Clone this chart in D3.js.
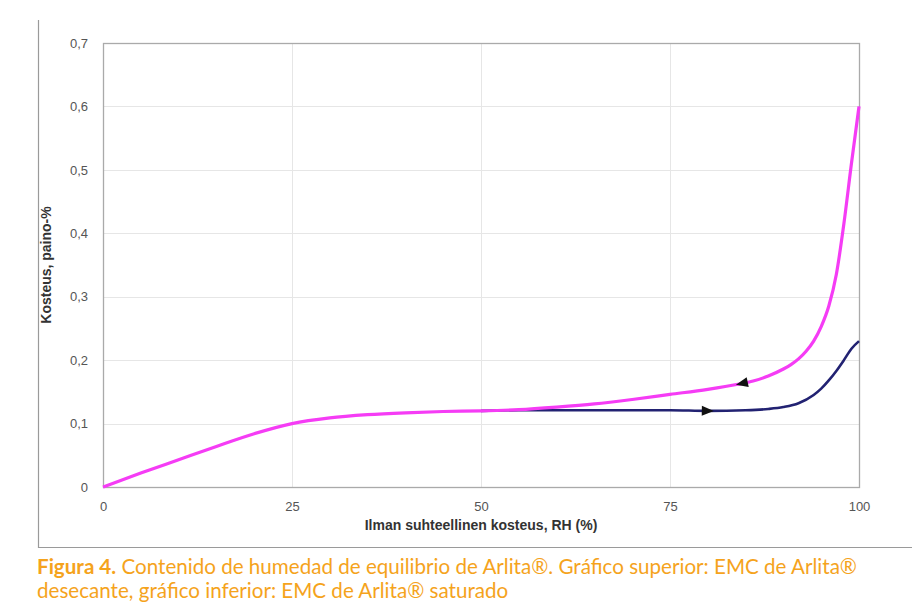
<!DOCTYPE html>
<html>
<head>
<meta charset="utf-8">
<script src="https://cdn.jsdelivr.net/npm/d3@7"></script>
<style>
  body { margin: 0; background: #fff; }
  svg { display: block; }
</style>
</head>
<body>
<svg id="chart" width="912" height="608"></svg>
<script>
// values
const x_ticks = [0, 25, 50, 75, 100];
const y_ticks = [0, 0.1, 0.2, 0.3, 0.4, 0.5, 0.6, 0.7];

const pink_rh = [0, 5, 10, 15, 20, 25, 30, 35, 40, 45, 50, 55, 60, 65, 70, 75, 80, 84, 86, 88, 90, 91, 92, 93, 94, 95, 96, 97, 98, 99, 100];
const pink_val = [0, 0.022, 0.043, 0.064, 0.084, 0.1, 0.109, 0.114, 0.117, 0.119, 0.12, 0.122, 0.126, 0.131, 0.138, 0.146, 0.154, 0.162, 0.167, 0.175, 0.186, 0.193, 0.202, 0.214, 0.23, 0.253, 0.285, 0.335, 0.415, 0.51, 0.6];

const blue_rh = [50, 55, 60, 65, 70, 75, 80, 85, 88, 90, 92, 94, 95, 96, 97, 98, 99, 100];
const blue_val = [0.12, 0.121, 0.121, 0.121, 0.121, 0.121, 0.12, 0.121, 0.123, 0.126, 0.132, 0.145, 0.155, 0.168, 0.183, 0.2, 0.218, 0.23];

// arrow positions (rh) and direction
const arrow_pink = 84.5;
const arrow_blue = 80;

const svg = d3.select('#chart');

let plot_left = 103, plot_right = 859, plot_top = 43, plot_bottom = 487;
let font = 'Liberation Sans, Arial, sans-serif';

var x = d3.scaleLinear().domain([0, 100]).range([plot_left, plot_right]);
var y = d3.scaleLinear().domain([0, 0.7]).range([plot_bottom, plot_top]);

// outer frame (left + bottom)
svg.append('path')
    .attr('d', 'M38.5,20 V547.5 H912')
    .attr('fill', 'none')
    .attr('stroke', '#9a9a9a')
    .attr('stroke-width', 1.2);

// grid
svg.append('g').selectAll('line').data(y_ticks.slice(1, -1)).enter().append('line')
    .attr('x1', plot_left).attr('x2', plot_right)
    .attr('y1', d => Math.round(y(d)) + 0.5).attr('y2', d => Math.round(y(d)) + 0.5)
    .attr('stroke', '#e6e6e6');
svg.append('g').selectAll('line').data(x_ticks.slice(1, -1)).enter().append('line')
    .attr('y1', plot_top).attr('y2', plot_bottom)
    .attr('x1', d => Math.round(x(d)) + 0.5).attr('x2', d => Math.round(x(d)) + 0.5)
    .attr('stroke', '#e6e6e6');

// plot border
svg.append('rect')
    .attr('x', plot_left + 0.5).attr('y', plot_top + 0.5)
    .attr('width', plot_right - plot_left).attr('height', plot_bottom - plot_top)
    .attr('fill', 'none').attr('stroke', '#aaaaaa').attr('stroke-width', 1.3);

// axes ticks labels
let x_axis = svg.append('g')
    .attr('transform', 'translate(0,' + (plot_bottom + 12) + ')')
    .call(d3.axisBottom(x).tickValues(x_ticks).tickSize(0).tickFormat(d3.format('d')));
x_axis.select('.domain').remove();
x_axis.selectAll('text')
    .attr('font-family', font)
    .attr('font-size', 13).attr('fill', '#555');

let y_axis = svg.append('g')
    .attr('transform', 'translate(' + (plot_left - 12) + ',0)')
    .call(d3.axisLeft(y).tickValues(y_ticks).tickSize(0)
        .tickFormat(d => d === 0 ? '0' : d3.format('.1f')(d).replace('.', ',')));
y_axis.select('.domain').remove();
y_axis.selectAll('text')
    .attr('font-family', font)
    .attr('font-size', 13).attr('fill', '#555');

// axis titles
svg.append('text')
    .attr('x', 481).attr('y', 530)
    .attr('text-anchor', 'middle')
    .attr('font-family', font)
    .attr('font-size', 14).attr('font-weight', 'bold').attr('fill', '#333')
    .text('Ilman suhteellinen kosteus, RH (%)');

svg.append('text')
    .attr('transform', 'translate(51,265) rotate(-90)')
    .attr('text-anchor', 'middle')
    .attr('font-family', font)
    .attr('font-size', 14).attr('font-weight', 'bold').attr('fill', '#333')
    .text('Kosteus, paino-%');

// curves
var line = d3.line()
    .x(d => x(d[0]))
    .y(d => y(d[1]))
    .curve(d3.curveMonotoneX);

let blue_data = d3.zip(blue_rh, blue_val);
let pink_data = d3.zip(pink_rh, pink_val);

svg.append('path')
    .attr('d', line(blue_data))
    .attr('fill', 'none').attr('stroke', '#222272').attr('stroke-width', 2.6);

svg.append('path')
    .attr('d', line(pink_data))
    .attr('fill', 'none').attr('stroke', '#f53cf5').attr('stroke-width', 3.2);

// arrow heads
function arrow(rh, xs, ys, dir) {
    let i = d3.bisectLeft(xs, rh);
    let t = (rh - xs[i - 1]) / (xs[i] - xs[i - 1]);
    let v = ys[i - 1] + t * (ys[i] - ys[i - 1]);
    let px = x(rh), py = y(v);
    let ang = Math.atan2(y(ys[i]) - y(ys[i - 1]), x(xs[i]) - x(xs[i - 1])) * 180 / Math.PI;
    if (dir < 0) ang += 180;
    svg.append('path')
        .attr('d', 'M6,0 L-6,-5 L-6,5 Z')
        .attr('transform', 'translate(' + px + ',' + py + ') rotate(' + ang + ')')
        .attr('fill', '#111');
}
arrow(arrow_pink, pink_rh, pink_val, -1);
arrow(arrow_blue, blue_rh, blue_val, 1);

// caption
let cap_font = 'Lato, Liberation Sans, sans-serif';
let cap = svg.append('text')
    .attr('x', 37).attr('y', 574)
    .attr('font-family', cap_font)
    .attr('font-size', 20.6).attr('fill', '#f5a31c');
cap.append('tspan').attr('font-weight', 'bold').text('Figura 4.');
cap.append('tspan').text(' Contenido de humedad de equilibrio de Arlita®. Gráfico superior: EMC de Arlita®');
svg.append('text')
    .attr('x', 37).attr('y', 598)
    .attr('font-family', cap_font)
    .attr('font-size', 20.6).attr('fill', '#f5a31c')
    .text('desecante, gráfico inferior: EMC de Arlita® saturado');
</script>
</body>
</html>
